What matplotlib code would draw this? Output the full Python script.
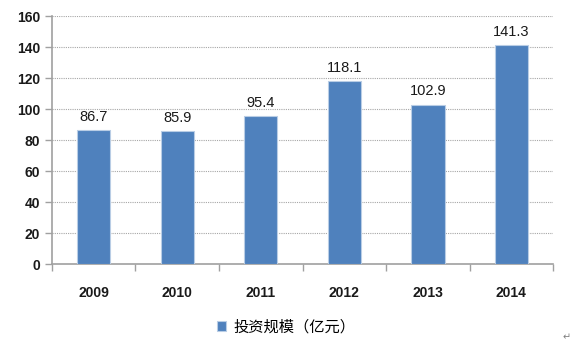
import matplotlib
matplotlib.use('Agg')
import matplotlib.pyplot as plt
import numpy as np

# 投资规模 (亿元), 2009-2014
years = ['2009', '2010', '2011', '2012', '2013', '2014']
invest = [86.7, 85.9, 95.4, 118.1, 102.9, 141.3]
legend_label = '投资规模（亿元）'

plt.rcParams['font.family'] = ['Liberation Sans', 'Noto Sans CJK SC', 'DejaVu Sans']

fig = plt.figure(figsize=(5.82, 3.5), dpi=100)
ax = fig.add_axes([0.0893, 0.2457, 0.861, 0.708])

x = np.arange(len(years))
bars = ax.bar(x, invest, width=0.4, color='#4F81BD', edgecolor='#B9CDE5',
              linewidth=0.8, label=legend_label, zorder=3)

for xi, v in zip(x, invest):
    ax.text(xi, v + 4, f'{v:.1f}', ha='center', va='bottom', fontsize=10.5, color='#1a1a1a')

ax.set_xlim(-0.5, len(years) - 0.5)
ax.set_ylim(0, 160)
ax.set_yticks(range(0, 161, 20))
ax.set_xticks(x)
ax.set_xticklabels(years, fontsize=10, fontweight='bold', color='#1a1a1a')
ax.tick_params(axis='x', length=0, pad=16)
ax.tick_params(axis='y', labelsize=10, colors='#1a1a1a', length=5, color='#A0A0A0', width=1)
for lab in ax.get_yticklabels():
    lab.set_fontweight('bold')

# category boundary ticks on the x axis
ax.set_xticks(np.arange(-0.5, len(years), 1), minor=True)
ax.tick_params(axis='x', which='minor', length=5, color='#A0A0A0', width=1)

ax.grid(axis='y', linestyle=(0, (1, 1)), color='#A6A6A6', linewidth=0.8, zorder=0)
for s in ['top', 'right']:
    ax.spines[s].set_visible(False)
for s in ['left', 'bottom']:
    ax.spines[s].set_color('#A0A0A0')
    ax.spines[s].set_linewidth(1.2)

leg = fig.legend(handles=[bars], labels=[legend_label], loc='center',
                 bbox_to_anchor=(0.492, 0.066), frameon=False,
                 prop={'family': ['Noto Sans CJK SC', 'DejaVu Sans'], 'size': 11},
                 handlelength=0.6, handleheight=0.6, handletextpad=0.5)

fig.text(0.967, 0.028, '\u21b5', fontsize=7, color='#808080', family='DejaVu Sans')

fig.savefig('out.png', dpi=100)
